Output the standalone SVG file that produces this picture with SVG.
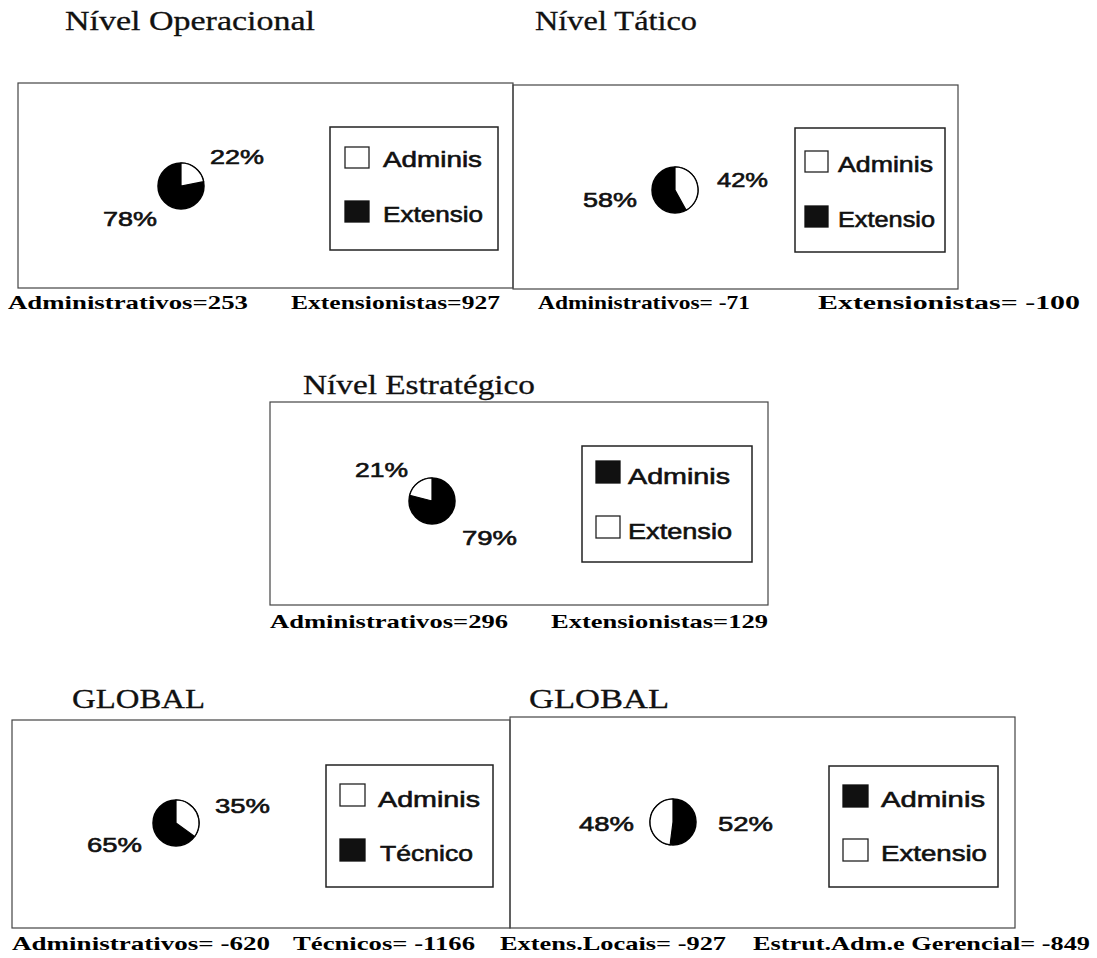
<svg xmlns="http://www.w3.org/2000/svg" width="1097" height="958" viewBox="0 0 1097 958">
<style>
.bg{fill:#fff}
.panel{fill:none;stroke:#444;stroke-width:1.2}
.legend{fill:none;stroke:#222;stroke-width:1.5}
.sw-w{fill:#fff;stroke:#222;stroke-width:1.3}
.sw-b{fill:#111;stroke:#111;stroke-width:1.3}
.pie{fill:#000;stroke:#000;stroke-width:1.5}
.wedge{fill:#fff;stroke:#000;stroke-width:1.2}
.title{font-family:"Liberation Serif","Times New Roman",serif;font-size:27px;fill:#111;stroke:#111;stroke-width:0.3}
.pct{font-family:"Liberation Sans",Arial,sans-serif;font-size:20px;fill:#111;stroke:#111;stroke-width:0.6}
.leg{font-family:"Liberation Sans",Arial,sans-serif;font-size:22px;fill:#111;stroke:#111;stroke-width:0.6}
.val{font-family:"Liberation Serif","Times New Roman",serif;font-size:19px;font-weight:bold;fill:#000}
</style>
<rect class="bg" x="0" y="0" width="1097" height="958"/>

<g id="operacional">
<text class="title" x="65" y="30" textLength="250" lengthAdjust="spacingAndGlyphs">Nível Operacional</text>
<rect class="panel" x="18" y="83" width="495" height="205"/>
<circle class="pie" cx="181" cy="186" r="23"/>
<path class="wedge" d="M181,186 L181,163 A23,23 0 0 1 203.59,181.69 Z"/>
<text class="pct" x="210" y="164" textLength="54" lengthAdjust="spacingAndGlyphs">22%</text>
<text class="pct" x="103" y="226" textLength="54" lengthAdjust="spacingAndGlyphs">78%</text>
<rect class="legend" x="330" y="127" width="168" height="123"/>
<rect class="sw-w" x="345" y="147" width="24" height="21"/>
<rect class="sw-b" x="345" y="201" width="24" height="21"/>
<text class="leg" x="383" y="167" textLength="99" lengthAdjust="spacingAndGlyphs">Adminis</text>
<text class="leg" x="383" y="222" textLength="100" lengthAdjust="spacingAndGlyphs">Extensio</text>
<text class="val" x="8" y="309" textLength="240" lengthAdjust="spacingAndGlyphs">Administrativos=253</text>
<text class="val" x="291" y="309" textLength="209" lengthAdjust="spacingAndGlyphs">Extensionistas=927</text>
</g>

<g id="tatico">
<text class="title" x="535" y="30" textLength="162" lengthAdjust="spacingAndGlyphs">Nível Tático</text>
<rect class="panel" x="513" y="85" width="445" height="204"/>
<circle class="pie" cx="675" cy="190" r="23"/>
<path class="wedge" d="M675,190 L675,167 A23,23 0 0 1 686.08,210.15 Z"/>
<text class="pct" x="717" y="187" textLength="51" lengthAdjust="spacingAndGlyphs">42%</text>
<text class="pct" x="583" y="207" textLength="54" lengthAdjust="spacingAndGlyphs">58%</text>
<rect class="legend" x="795" y="128" width="150" height="124"/>
<rect class="sw-w" x="805" y="151" width="23" height="21"/>
<rect class="sw-b" x="805" y="206" width="23" height="21"/>
<text class="leg" x="838" y="172" textLength="95" lengthAdjust="spacingAndGlyphs">Adminis</text>
<text class="leg" x="838" y="227" textLength="97" lengthAdjust="spacingAndGlyphs">Extensio</text>
<text class="val" x="538" y="309" textLength="212" lengthAdjust="spacingAndGlyphs">Administrativos= -71</text>
<text class="val" x="818" y="309" textLength="262" lengthAdjust="spacingAndGlyphs">Extensionistas= -100</text>
</g>

<g id="estrategico">
<text class="title" x="303" y="394" textLength="232" lengthAdjust="spacingAndGlyphs">Nível Estratégico</text>
<rect class="panel" x="270" y="402" width="498" height="203"/>
<circle class="pie" cx="432" cy="501" r="23"/>
<path class="wedge" d="M432,501 L409.72,495.28 A23,23 0 0 1 432,478 Z"/>
<text class="pct" x="355" y="477" textLength="53" lengthAdjust="spacingAndGlyphs">21%</text>
<text class="pct" x="462" y="545" textLength="55" lengthAdjust="spacingAndGlyphs">79%</text>
<rect class="legend" x="582" y="446" width="170" height="116"/>
<rect class="sw-b" x="596" y="461" width="24" height="22"/>
<rect class="sw-w" x="596" y="516" width="24" height="22"/>
<text class="leg" x="628" y="484" textLength="102" lengthAdjust="spacingAndGlyphs">Adminis</text>
<text class="leg" x="628" y="539" textLength="104" lengthAdjust="spacingAndGlyphs">Extensio</text>
<text class="val" x="270" y="628" textLength="238" lengthAdjust="spacingAndGlyphs">Administrativos=296</text>
<text class="val" x="551" y="628" textLength="217" lengthAdjust="spacingAndGlyphs">Extensionistas=129</text>
</g>

<g id="global-tecnico">
<text class="title" x="72" y="708" textLength="133" lengthAdjust="spacingAndGlyphs">GLOBAL</text>
<rect class="panel" x="12" y="720" width="498" height="208"/>
<circle class="pie" cx="176" cy="823" r="23"/>
<path class="wedge" d="M176,823 L176,800 A23,23 0 0 1 194.61,836.52 Z"/>
<text class="pct" x="215" y="813" textLength="55" lengthAdjust="spacingAndGlyphs">35%</text>
<text class="pct" x="87" y="852" textLength="55" lengthAdjust="spacingAndGlyphs">65%</text>
<rect class="legend" x="326" y="765" width="167" height="122"/>
<rect class="sw-w" x="340" y="784" width="25" height="22"/>
<rect class="sw-b" x="340" y="839" width="25" height="22"/>
<text class="leg" x="378" y="807" textLength="102" lengthAdjust="spacingAndGlyphs">Adminis</text>
<text class="leg" x="380" y="861" textLength="93" lengthAdjust="spacingAndGlyphs">Técnico</text>
<text class="val" x="12" y="950" textLength="258" lengthAdjust="spacingAndGlyphs">Administrativos= -620</text>
<text class="val" x="293" y="950" textLength="182" lengthAdjust="spacingAndGlyphs">Técnicos= -1166</text>
</g>

<g id="global-extensao">
<text class="title" x="529" y="708" textLength="140" lengthAdjust="spacingAndGlyphs">GLOBAL</text>
<rect class="panel" x="510" y="717" width="505" height="211"/>
<circle class="pie" cx="673" cy="822" r="23"/>
<path class="wedge" d="M673,822 L670.12,844.82 A23,23 0 0 1 673,799 Z"/>
<text class="pct" x="579" y="831" textLength="55" lengthAdjust="spacingAndGlyphs">48%</text>
<text class="pct" x="718" y="831" textLength="55" lengthAdjust="spacingAndGlyphs">52%</text>
<rect class="legend" x="829" y="766" width="169" height="121"/>
<rect class="sw-b" x="843" y="785" width="25" height="22"/>
<rect class="sw-w" x="843" y="839" width="25" height="22"/>
<text class="leg" x="881" y="807" textLength="104" lengthAdjust="spacingAndGlyphs">Adminis</text>
<text class="leg" x="881" y="861" textLength="106" lengthAdjust="spacingAndGlyphs">Extensio</text>
<text class="val" x="500" y="950" textLength="226" lengthAdjust="spacingAndGlyphs">Extens.Locais= -927</text>
<text class="val" x="753" y="950" textLength="337" lengthAdjust="spacingAndGlyphs">Estrut.Adm.e Gerencial= -849</text>
</g>

<g id="connectors"></g>
</svg>
